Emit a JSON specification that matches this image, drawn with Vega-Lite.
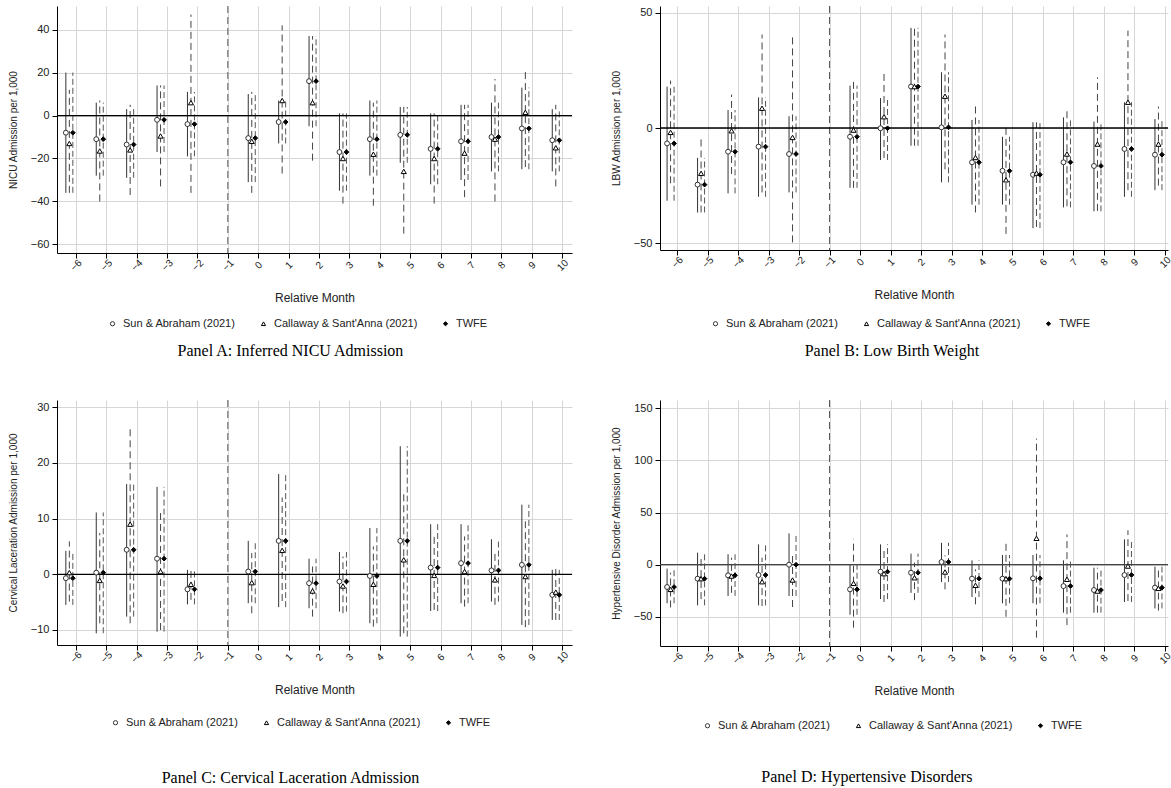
{
"$schema": "https://vega.github.io/schema/vega-lite/v6.json",
"padding": {"left": 8, "top": 5, "right": 0, "bottom": 0},
"datasets": {
"A": [
{"m":-6,"e":"SA","b":-8,"lo":-36,"hi":20},{"m":-5,"e":"SA","b":-11,"lo":-28,"hi":6},{"m":-4,"e":"SA","b":-13.5,"lo":-29,"hi":3},{"m":-3,"e":"SA","b":-2,"lo":-17,"hi":14},{"m":-2,"e":"SA","b":-4,"lo":-19,"hi":11},{"m":0,"e":"SA","b":-10.5,"lo":-31,"hi":10},{"m":1,"e":"SA","b":-3,"lo":-13,"hi":7},{"m":2,"e":"SA","b":16,"lo":-5,"hi":37},{"m":3,"e":"SA","b":-17,"lo":-35,"hi":1},{"m":4,"e":"SA","b":-11,"lo":-28,"hi":7},{"m":5,"e":"SA","b":-9,"lo":-22,"hi":4},{"m":6,"e":"SA","b":-15.5,"lo":-32,"hi":1},{"m":7,"e":"SA","b":-12,"lo":-30,"hi":5},{"m":8,"e":"SA","b":-10,"lo":-26,"hi":6},{"m":9,"e":"SA","b":-6,"lo":-25,"hi":13},{"m":10,"e":"SA","b":-11.5,"lo":-26,"hi":3},
{"m":-6,"e":"CS","b":-13,"lo":-36,"hi":12},{"m":-5,"e":"CS","b":-16.5,"lo":-40,"hi":7},{"m":-4,"e":"CS","b":-16,"lo":-37,"hi":5},{"m":-3,"e":"CS","b":-9.5,"lo":-33,"hi":14},{"m":-2,"e":"CS","b":6,"lo":-36,"hi":47},{"m":0,"e":"CS","b":-12,"lo":-36,"hi":11},{"m":1,"e":"CS","b":7,"lo":-27,"hi":42},{"m":2,"e":"CS","b":6,"lo":-21,"hi":37},{"m":3,"e":"CS","b":-20,"lo":-41,"hi":1},{"m":4,"e":"CS","b":-18,"lo":-42,"hi":6},{"m":5,"e":"CS","b":-26,"lo":-55,"hi":4},{"m":6,"e":"CS","b":-20,"lo":-41,"hi":1},{"m":7,"e":"CS","b":-17.5,"lo":-38,"hi":5},{"m":8,"e":"CS","b":-11,"lo":-40,"hi":17},{"m":9,"e":"CS","b":1.5,"lo":-24,"hi":21},{"m":10,"e":"CS","b":-15,"lo":-33,"hi":5},
{"m":-6,"e":"TW","b":-8,"lo":-36,"hi":20},{"m":-5,"e":"TW","b":-11,"lo":-28,"hi":6},{"m":-4,"e":"TW","b":-13.5,"lo":-29,"hi":3},{"m":-3,"e":"TW","b":-2,"lo":-17,"hi":14},{"m":-2,"e":"TW","b":-4,"lo":-19,"hi":11},{"m":0,"e":"TW","b":-10.5,"lo":-31,"hi":10},{"m":1,"e":"TW","b":-3,"lo":-13,"hi":7},{"m":2,"e":"TW","b":16,"lo":-5,"hi":37},{"m":3,"e":"TW","b":-17,"lo":-35,"hi":1},{"m":4,"e":"TW","b":-11,"lo":-28,"hi":7},{"m":5,"e":"TW","b":-9,"lo":-22,"hi":4},{"m":6,"e":"TW","b":-15.5,"lo":-32,"hi":1},{"m":7,"e":"TW","b":-12,"lo":-30,"hi":5},{"m":8,"e":"TW","b":-10,"lo":-26,"hi":6},{"m":9,"e":"TW","b":-6,"lo":-25,"hi":13},{"m":10,"e":"TW","b":-11.5,"lo":-26,"hi":3}
],
"B": [
{"m":-6,"e":"SA","b":-6.7,"lo":-31.6,"hi":18},{"m":-5,"e":"SA","b":-24.6,"lo":-36.7,"hi":-13},{"m":-4,"e":"SA","b":-10.3,"lo":-28.4,"hi":7.8},{"m":-3,"e":"SA","b":-8.1,"lo":-29.9,"hi":13.3},{"m":-2,"e":"SA","b":-11.3,"lo":-28,"hi":5.1},{"m":0,"e":"SA","b":-3.8,"lo":-26,"hi":18.4},{"m":1,"e":"SA","b":-0.1,"lo":-13.9,"hi":13},{"m":2,"e":"SA","b":18,"lo":-7.7,"hi":43.5},{"m":3,"e":"SA","b":0.3,"lo":-23.6,"hi":24.2},{"m":4,"e":"SA","b":-14.9,"lo":-33.3,"hi":3.5},{"m":5,"e":"SA","b":-18.6,"lo":-33.3,"hi":-3.8},{"m":6,"e":"SA","b":-20.3,"lo":-43.5,"hi":2.5},{"m":7,"e":"SA","b":-14.9,"lo":-34.5,"hi":4.6},{"m":8,"e":"SA","b":-16.5,"lo":-36.2,"hi":2.8},{"m":9,"e":"SA","b":-9.1,"lo":-29.9,"hi":11.2},{"m":10,"e":"SA","b":-11.6,"lo":-27,"hi":3.9},
{"m":-6,"e":"CS","b":-1.9,"lo":-24,"hi":20.6},{"m":-5,"e":"CS","b":-19.7,"lo":-36.7,"hi":-3.3},{"m":-4,"e":"CS","b":-1.2,"lo":-20,"hi":14.5},{"m":-3,"e":"CS","b":8.6,"lo":-28,"hi":40.6},{"m":-2,"e":"CS","b":-4.1,"lo":-49.7,"hi":40.9},{"m":0,"e":"CS","b":-0.9,"lo":-26,"hi":21},{"m":1,"e":"CS","b":4.9,"lo":-13,"hi":24.2},{"m":2,"e":"CS","b":18,"lo":-7.7,"hi":43.5},{"m":3,"e":"CS","b":13.8,"lo":-18,"hi":40.6},{"m":4,"e":"CS","b":-12.8,"lo":-36.7,"hi":10.7},{"m":5,"e":"CS","b":-22.5,"lo":-46,"hi":1.4},{"m":6,"e":"CS","b":-19.6,"lo":-43,"hi":2.5},{"m":7,"e":"CS","b":-11.3,"lo":-34,"hi":9},{"m":8,"e":"CS","b":-7,"lo":-36,"hi":22},{"m":9,"e":"CS","b":11.2,"lo":-27,"hi":42.3},{"m":10,"e":"CS","b":-7,"lo":-25,"hi":9.3},
{"m":-6,"e":"TW","b":-6.7,"lo":-31.6,"hi":18},{"m":-5,"e":"TW","b":-24.6,"lo":-36.7,"hi":-13},{"m":-4,"e":"TW","b":-10.3,"lo":-28.4,"hi":7.8},{"m":-3,"e":"TW","b":-8.1,"lo":-29.9,"hi":13.3},{"m":-2,"e":"TW","b":-11.3,"lo":-28,"hi":5.1},{"m":0,"e":"TW","b":-3.8,"lo":-26,"hi":18.4},{"m":1,"e":"TW","b":-0.1,"lo":-13.9,"hi":13},{"m":2,"e":"TW","b":18,"lo":-7.7,"hi":43.5},{"m":3,"e":"TW","b":0.3,"lo":-23.6,"hi":24.2},{"m":4,"e":"TW","b":-14.9,"lo":-33.3,"hi":3.5},{"m":5,"e":"TW","b":-18.6,"lo":-33.3,"hi":-3.8},{"m":6,"e":"TW","b":-20.3,"lo":-43.5,"hi":2.5},{"m":7,"e":"TW","b":-14.9,"lo":-34.5,"hi":4.6},{"m":8,"e":"TW","b":-16.5,"lo":-36.2,"hi":2.8},{"m":9,"e":"TW","b":-9.1,"lo":-29.9,"hi":11.2},{"m":10,"e":"TW","b":-11.6,"lo":-27,"hi":3.9}
],
"C": [
{"m":-6,"e":"SA","b":-0.7,"lo":-5.5,"hi":4.2},{"m":-5,"e":"SA","b":0.3,"lo":-10.6,"hi":11.1},{"m":-4,"e":"SA","b":4.4,"lo":-7.6,"hi":16.2},{"m":-3,"e":"SA","b":2.8,"lo":-10.3,"hi":15.7},{"m":-2,"e":"SA","b":-2.7,"lo":-5.4,"hi":0.8},{"m":0,"e":"SA","b":0.5,"lo":-5.2,"hi":6},{"m":1,"e":"SA","b":6,"lo":-5.9,"hi":18},{"m":2,"e":"SA","b":-1.6,"lo":-6.1,"hi":2.8},{"m":3,"e":"SA","b":-1.3,"lo":-6.7,"hi":4},{"m":4,"e":"SA","b":-0.3,"lo":-8.8,"hi":8.3},{"m":5,"e":"SA","b":6,"lo":-11.2,"hi":23},{"m":6,"e":"SA","b":1.2,"lo":-6.6,"hi":9},{"m":7,"e":"SA","b":2,"lo":-5.2,"hi":9},{"m":8,"e":"SA","b":0.7,"lo":-4.9,"hi":6.3},{"m":9,"e":"SA","b":1.7,"lo":-9.1,"hi":12.5},{"m":10,"e":"SA","b":-3.7,"lo":-8.2,"hi":0.8},
{"m":-6,"e":"CS","b":0.3,"lo":-4.9,"hi":5.9},{"m":-5,"e":"CS","b":-1.1,"lo":-8.8,"hi":7.4},{"m":-4,"e":"CS","b":9,"lo":-8.8,"hi":26.7},{"m":-3,"e":"CS","b":0.5,"lo":-10,"hi":11},{"m":-2,"e":"CS","b":-1.8,"lo":-4.6,"hi":0.8},{"m":0,"e":"CS","b":-1.5,"lo":-7,"hi":3.8},{"m":1,"e":"CS","b":4.3,"lo":-4.8,"hi":13.8},{"m":2,"e":"CS","b":-3,"lo":-7.6,"hi":1.4},{"m":3,"e":"CS","b":-2.1,"lo":-7,"hi":3.2},{"m":4,"e":"CS","b":-1.8,"lo":-9.4,"hi":5},{"m":5,"e":"CS","b":2.6,"lo":-10.6,"hi":15.1},{"m":6,"e":"CS","b":-0.2,"lo":-6.4,"hi":6.8},{"m":7,"e":"CS","b":0.5,"lo":-5.8,"hi":6.8},{"m":8,"e":"CS","b":-1,"lo":-5.5,"hi":3.8},{"m":9,"e":"CS","b":-0.4,"lo":-9.5,"hi":9.5},{"m":10,"e":"CS","b":-3.2,"lo":-8.2,"hi":1.1},
{"m":-6,"e":"TW","b":-0.7,"lo":-5.5,"hi":4.2},{"m":-5,"e":"TW","b":0.3,"lo":-10.6,"hi":11.1},{"m":-4,"e":"TW","b":4.4,"lo":-7.6,"hi":16.2},{"m":-3,"e":"TW","b":2.8,"lo":-10.3,"hi":15.7},{"m":-2,"e":"TW","b":-2.7,"lo":-5.4,"hi":0.8},{"m":0,"e":"TW","b":0.5,"lo":-5.2,"hi":6},{"m":1,"e":"TW","b":6,"lo":-5.9,"hi":18},{"m":2,"e":"TW","b":-1.6,"lo":-6.1,"hi":2.8},{"m":3,"e":"TW","b":-1.3,"lo":-6.7,"hi":4},{"m":4,"e":"TW","b":-0.3,"lo":-8.8,"hi":8.3},{"m":5,"e":"TW","b":6,"lo":-11.2,"hi":23},{"m":6,"e":"TW","b":1.2,"lo":-6.6,"hi":9},{"m":7,"e":"TW","b":2,"lo":-5.2,"hi":9},{"m":8,"e":"TW","b":0.7,"lo":-4.9,"hi":6.3},{"m":9,"e":"TW","b":1.7,"lo":-9.1,"hi":12.5},{"m":10,"e":"TW","b":-3.7,"lo":-8.2,"hi":0.8}
],
"D": [
{"m":-6,"e":"SA","b":-21.4,"lo":-37,"hi":-3.8},{"m":-5,"e":"SA","b":-13.4,"lo":-39,"hi":11.5},{"m":-4,"e":"SA","b":-10.2,"lo":-30,"hi":10},{"m":-3,"e":"SA","b":-9.9,"lo":-39,"hi":19.5},{"m":-2,"e":"SA","b":0,"lo":-30,"hi":30},{"m":0,"e":"SA","b":-23.7,"lo":-48,"hi":0.3},{"m":1,"e":"SA","b":-6.7,"lo":-33,"hi":19.5},{"m":2,"e":"SA","b":-7.7,"lo":-27,"hi":10.6},{"m":3,"e":"SA","b":2.6,"lo":-16.6,"hi":21},{"m":4,"e":"SA","b":-13.4,"lo":-31,"hi":4.2},{"m":5,"e":"SA","b":-13.4,"lo":-37,"hi":9.3},{"m":6,"e":"SA","b":-13.1,"lo":-37,"hi":9.3},{"m":7,"e":"SA","b":-20.5,"lo":-46,"hi":4.2},{"m":8,"e":"SA","b":-24.3,"lo":-46,"hi":-2.9},{"m":9,"e":"SA","b":-9.9,"lo":-35.8,"hi":24.3},{"m":10,"e":"SA","b":-22,"lo":-42,"hi":-1.9},
{"m":-6,"e":"CS","b":-23.7,"lo":-41,"hi":-7.7},{"m":-5,"e":"CS","b":-13.4,"lo":-33,"hi":6},{"m":-4,"e":"CS","b":-10.9,"lo":-27,"hi":6.7},{"m":-3,"e":"CS","b":-16.3,"lo":-39.7,"hi":6.7},{"m":-2,"e":"CS","b":-14.7,"lo":-40.6,"hi":11.5},{"m":0,"e":"CS","b":-17.9,"lo":-60.4,"hi":24.3},{"m":1,"e":"CS","b":-8.6,"lo":-35.8,"hi":16},{"m":2,"e":"CS","b":-12.5,"lo":-34,"hi":2},{"m":3,"e":"CS","b":-7,"lo":-23.7,"hi":9},{"m":4,"e":"CS","b":-19.8,"lo":-38,"hi":-4.5},{"m":5,"e":"CS","b":-13.4,"lo":-50,"hi":22.7},{"m":6,"e":"CS","b":25.3,"lo":-70,"hi":121},{"m":7,"e":"CS","b":-14,"lo":-58,"hi":29},{"m":8,"e":"CS","b":-25.3,"lo":-46,"hi":-2.9},{"m":9,"e":"CS","b":-1.3,"lo":-34.9,"hi":33},{"m":10,"e":"CS","b":-22.7,"lo":-44,"hi":-1.9},
{"m":-6,"e":"TW","b":-21.4,"lo":-37,"hi":-3.8},{"m":-5,"e":"TW","b":-13.4,"lo":-39,"hi":11.5},{"m":-4,"e":"TW","b":-10.2,"lo":-30,"hi":10},{"m":-3,"e":"TW","b":-9.9,"lo":-39,"hi":19.5},{"m":-2,"e":"TW","b":0,"lo":-30,"hi":30},{"m":0,"e":"TW","b":-23.7,"lo":-48,"hi":0.3},{"m":1,"e":"TW","b":-6.7,"lo":-33,"hi":19.5},{"m":2,"e":"TW","b":-7.7,"lo":-27,"hi":10.6},{"m":3,"e":"TW","b":2.6,"lo":-16.6,"hi":21},{"m":4,"e":"TW","b":-13.4,"lo":-31,"hi":4.2},{"m":5,"e":"TW","b":-13.4,"lo":-37,"hi":9.3},{"m":6,"e":"TW","b":-13.1,"lo":-37,"hi":9.3},{"m":7,"e":"TW","b":-20.5,"lo":-46,"hi":4.2},{"m":8,"e":"TW","b":-24.3,"lo":-46,"hi":-2.9},{"m":9,"e":"TW","b":-9.9,"lo":-35.8,"hi":24.3},{"m":10,"e":"TW","b":-22,"lo":-42,"hi":-1.9}
]
},
"vconcat": [
{"hconcat": [
{"width": 515, "height": 247,
 "title": {"text": "Panel A: Inferred NICU Admission"},
 "layer": [
  {"data": {"name": "A"}, "transform": [{"filter": "datum.e == 'SA'"}],
   "mark": {"type": "rule", "color": "#333", "strokeWidth": 1, "xOffset": -10},
   "encoding": {
    "x": {"field": "m", "type": "quantitative", "scale": {"domain": [-6.62, 10.32], "nice": false, "zero": false}, "axis": {"values": [-6,-5,-4,-3,-2,-1,0,1,2,3,4,5,6,7,8,9,10], "tickCount": 17, "title": "Relative Month", "labelOverlap": false, "labelBound": false, "labelFlush": false, "labelSeparation": 0}},
    "y": {"field": "lo", "type": "quantitative", "scale": {"domain": [-64, 51], "nice": false, "zero": false}, "axis": {"values": [-60,-40,-20,0,20,40], "title": "NICU Admission per 1,000"}},
    "y2": {"field": "hi"}}},
  {"data": {"name": "A"}, "transform": [{"filter": "datum.e == 'CS'"}],
   "mark": {"type": "rule", "color": "#444", "strokeWidth": 1, "strokeDash": [7, 4], "xOffset": -6.5},
   "encoding": {"x": {"field": "m", "type": "quantitative"}, "y": {"field": "lo", "type": "quantitative"}, "y2": {"field": "hi"}}},
  {"data": {"name": "A"}, "transform": [{"filter": "datum.e == 'TW'"}],
   "mark": {"type": "rule", "color": "#555", "strokeWidth": 1, "strokeDash": [6, 3], "xOffset": -3},
   "encoding": {"x": {"field": "m", "type": "quantitative"}, "y": {"field": "lo", "type": "quantitative"}, "y2": {"field": "hi"}}},
  {"data": {"values": [{}]}, "mark": {"type": "rule", "color": "#555", "strokeWidth": 1, "strokeDash": [7, 4]},
   "encoding": {"x": {"datum": -1, "type": "quantitative"}}},
  {"data": {"values": [{}]}, "mark": {"type": "rule", "color": "#000", "strokeWidth": 1.3},
   "encoding": {"y": {"datum": 0, "type": "quantitative"}}},
  {"data": {"name": "A"}, "transform": [{"filter": "datum.e == 'SA'"}],
   "mark": {"type": "point", "filled": true, "opacity": 1, "strokeWidth": 1, "size": 24, "xOffset": -10},
   "encoding": {"x": {"field": "m", "type": "quantitative"}, "y": {"field": "b", "type": "quantitative"},
    "shape": {"field": "e", "type": "nominal", "scale": {"domain": ["SA", "CS", "TW"], "range": ["circle", "triangle-up", "diamond"]}, "legend": {"legendX": 50, "legendY": 312, "labelExpr": "datum.label == 'SA' ? 'Sun & Abraham (2021)' : datum.label == 'CS' ? \"Callaway & Sant'Anna (2021)\" : 'TWFE'"}},
    "fill": {"field": "e", "type": "nominal", "scale": {"domain": ["SA", "CS", "TW"], "range": ["#ffffff", "#ffffff", "#000000"]}, "legend": {"legendX": 50, "legendY": 312, "labelExpr": "datum.label == 'SA' ? 'Sun & Abraham (2021)' : datum.label == 'CS' ? \"Callaway & Sant'Anna (2021)\" : 'TWFE'"}},
    "stroke": {"field": "e", "type": "nominal", "scale": {"domain": ["SA", "CS", "TW"], "range": ["#333333", "#000000", "#000000"]}, "legend": {"legendX": 50, "legendY": 312, "labelExpr": "datum.label == 'SA' ? 'Sun & Abraham (2021)' : datum.label == 'CS' ? \"Callaway & Sant'Anna (2021)\" : 'TWFE'"}}}},
  {"data": {"name": "A"}, "transform": [{"filter": "datum.e == 'CS'"}],
   "mark": {"type": "point", "filled": true, "opacity": 1, "strokeWidth": 1, "size": 26, "xOffset": -6.5},
   "encoding": {"x": {"field": "m", "type": "quantitative"}, "y": {"field": "b", "type": "quantitative"}, "shape": {"field": "e", "type": "nominal"}, "fill": {"field": "e", "type": "nominal"}, "stroke": {"field": "e", "type": "nominal"}}},
  {"data": {"name": "A"}, "transform": [{"filter": "datum.e == 'TW'"}],
   "mark": {"type": "point", "filled": true, "opacity": 1, "strokeWidth": 1, "size": 22, "xOffset": -3},
   "encoding": {"x": {"field": "m", "type": "quantitative"}, "y": {"field": "b", "type": "quantitative"}, "shape": {"field": "e", "type": "nominal"}, "fill": {"field": "e", "type": "nominal"}, "stroke": {"field": "e", "type": "nominal"}}}
 ]},
{"width": 508, "height": 244,
 "title": {"text": "Panel B: Low Birth Weight"},
 "layer": [
  {"data": {"name": "B"}, "transform": [{"filter": "datum.e == 'SA'"}],
   "mark": {"type": "rule", "color": "#333", "strokeWidth": 1, "xOffset": -10},
   "encoding": {
    "x": {"field": "m", "type": "quantitative", "scale": {"domain": [-6.56, 10.1], "nice": false, "zero": false}, "axis": {"values": [-6,-5,-4,-3,-2,-1,0,1,2,3,4,5,6,7,8,9,10], "tickCount": 17, "title": "Relative Month", "labelOverlap": false, "labelBound": false, "labelFlush": false, "labelSeparation": 0}},
    "y": {"field": "lo", "type": "quantitative", "scale": {"domain": [-53, 53], "nice": false, "zero": false}, "axis": {"values": [-50, 0, 50], "title": "LBW Admission per 1,000"}},
    "y2": {"field": "hi"}}},
  {"data": {"name": "B"}, "transform": [{"filter": "datum.e == 'CS'"}],
   "mark": {"type": "rule", "color": "#444", "strokeWidth": 1, "strokeDash": [7, 4], "xOffset": -6.5},
   "encoding": {"x": {"field": "m", "type": "quantitative"}, "y": {"field": "lo", "type": "quantitative"}, "y2": {"field": "hi"}}},
  {"data": {"name": "B"}, "transform": [{"filter": "datum.e == 'TW'"}],
   "mark": {"type": "rule", "color": "#555", "strokeWidth": 1, "strokeDash": [6, 3], "xOffset": -3},
   "encoding": {"x": {"field": "m", "type": "quantitative"}, "y": {"field": "lo", "type": "quantitative"}, "y2": {"field": "hi"}}},
  {"data": {"values": [{}]}, "mark": {"type": "rule", "color": "#555", "strokeWidth": 1, "strokeDash": [7, 4]},
   "encoding": {"x": {"datum": -1, "type": "quantitative"}}},
  {"data": {"values": [{}]}, "mark": {"type": "rule", "color": "#000", "strokeWidth": 1.3},
   "encoding": {"y": {"datum": 0, "type": "quantitative"}}},
  {"data": {"name": "B"}, "transform": [{"filter": "datum.e == 'SA'"}],
   "mark": {"type": "point", "filled": true, "opacity": 1, "strokeWidth": 1, "size": 24, "xOffset": -10},
   "encoding": {"x": {"field": "m", "type": "quantitative"}, "y": {"field": "b", "type": "quantitative"},
    "shape": {"field": "e", "type": "nominal", "scale": {"domain": ["SA", "CS", "TW"], "range": ["circle", "triangle-up", "diamond"]}, "legend": {"legendX": 50, "legendY": 312, "labelExpr": "datum.label == 'SA' ? 'Sun & Abraham (2021)' : datum.label == 'CS' ? \"Callaway & Sant'Anna (2021)\" : 'TWFE'"}},
    "fill": {"field": "e", "type": "nominal", "scale": {"domain": ["SA", "CS", "TW"], "range": ["#ffffff", "#ffffff", "#000000"]}, "legend": {"legendX": 50, "legendY": 312, "labelExpr": "datum.label == 'SA' ? 'Sun & Abraham (2021)' : datum.label == 'CS' ? \"Callaway & Sant'Anna (2021)\" : 'TWFE'"}},
    "stroke": {"field": "e", "type": "nominal", "scale": {"domain": ["SA", "CS", "TW"], "range": ["#333333", "#000000", "#000000"]}, "legend": {"legendX": 50, "legendY": 312, "labelExpr": "datum.label == 'SA' ? 'Sun & Abraham (2021)' : datum.label == 'CS' ? \"Callaway & Sant'Anna (2021)\" : 'TWFE'"}}}},
  {"data": {"name": "B"}, "transform": [{"filter": "datum.e == 'CS'"}],
   "mark": {"type": "point", "filled": true, "opacity": 1, "strokeWidth": 1, "size": 26, "xOffset": -6.5},
   "encoding": {"x": {"field": "m", "type": "quantitative"}, "y": {"field": "b", "type": "quantitative"}, "shape": {"field": "e", "type": "nominal"}, "fill": {"field": "e", "type": "nominal"}, "stroke": {"field": "e", "type": "nominal"}}},
  {"data": {"name": "B"}, "transform": [{"filter": "datum.e == 'TW'"}],
   "mark": {"type": "point", "filled": true, "opacity": 1, "strokeWidth": 1, "size": 22, "xOffset": -3},
   "encoding": {"x": {"field": "m", "type": "quantitative"}, "y": {"field": "b", "type": "quantitative"}, "shape": {"field": "e", "type": "nominal"}, "fill": {"field": "e", "type": "nominal"}, "stroke": {"field": "e", "type": "nominal"}}}
 ]}
],
"spacing": 38,
"resolve": {"scale": {"shape": "independent", "fill": "independent", "stroke": "independent"}, "legend": {"shape": "independent", "fill": "independent", "stroke": "independent"}}},
{"hconcat": [
{"width": 515, "height": 245,
 "title": {"text": "Panel C: Cervical Laceration Admission", "offset": 42},
 "layer": [
  {"data": {"name": "C"}, "transform": [{"filter": "datum.e == 'SA'"}],
   "mark": {"type": "rule", "color": "#333", "strokeWidth": 1, "xOffset": -10},
   "encoding": {
    "x": {"field": "m", "type": "quantitative", "scale": {"domain": [-6.62, 10.32], "nice": false, "zero": false}, "axis": {"values": [-6,-5,-4,-3,-2,-1,0,1,2,3,4,5,6,7,8,9,10], "tickCount": 17, "title": "Relative Month", "labelOverlap": false, "labelBound": false, "labelFlush": false, "labelSeparation": 0}},
    "y": {"field": "lo", "type": "quantitative", "scale": {"domain": [-12.7, 31.3], "nice": false, "zero": false}, "axis": {"values": [-10, 0, 10, 20, 30], "title": "Cervical Laceration Admission per 1,000"}},
    "y2": {"field": "hi"}}},
  {"data": {"name": "C"}, "transform": [{"filter": "datum.e == 'CS'"}],
   "mark": {"type": "rule", "color": "#444", "strokeWidth": 1, "strokeDash": [7, 4], "xOffset": -6.5},
   "encoding": {"x": {"field": "m", "type": "quantitative"}, "y": {"field": "lo", "type": "quantitative"}, "y2": {"field": "hi"}}},
  {"data": {"name": "C"}, "transform": [{"filter": "datum.e == 'TW'"}],
   "mark": {"type": "rule", "color": "#555", "strokeWidth": 1, "strokeDash": [6, 3], "xOffset": -3},
   "encoding": {"x": {"field": "m", "type": "quantitative"}, "y": {"field": "lo", "type": "quantitative"}, "y2": {"field": "hi"}}},
  {"data": {"values": [{}]}, "mark": {"type": "rule", "color": "#555", "strokeWidth": 1, "strokeDash": [7, 4]},
   "encoding": {"x": {"datum": -1, "type": "quantitative"}}},
  {"data": {"values": [{}]}, "mark": {"type": "rule", "color": "#000", "strokeWidth": 1.3},
   "encoding": {"y": {"datum": 0, "type": "quantitative"}}},
  {"data": {"name": "C"}, "transform": [{"filter": "datum.e == 'SA'"}],
   "mark": {"type": "point", "filled": true, "opacity": 1, "strokeWidth": 1, "size": 24, "xOffset": -10},
   "encoding": {"x": {"field": "m", "type": "quantitative"}, "y": {"field": "b", "type": "quantitative"},
    "shape": {"field": "e", "type": "nominal", "scale": {"domain": ["SA", "CS", "TW"], "range": ["circle", "triangle-up", "diamond"]}, "legend": {"legendX": 53, "legendY": 317, "labelExpr": "datum.label == 'SA' ? 'Sun & Abraham (2021)' : datum.label == 'CS' ? \"Callaway & Sant'Anna (2021)\" : 'TWFE'"}},
    "fill": {"field": "e", "type": "nominal", "scale": {"domain": ["SA", "CS", "TW"], "range": ["#ffffff", "#ffffff", "#000000"]}, "legend": {"legendX": 53, "legendY": 317, "labelExpr": "datum.label == 'SA' ? 'Sun & Abraham (2021)' : datum.label == 'CS' ? \"Callaway & Sant'Anna (2021)\" : 'TWFE'"}},
    "stroke": {"field": "e", "type": "nominal", "scale": {"domain": ["SA", "CS", "TW"], "range": ["#333333", "#000000", "#000000"]}, "legend": {"legendX": 53, "legendY": 317, "labelExpr": "datum.label == 'SA' ? 'Sun & Abraham (2021)' : datum.label == 'CS' ? \"Callaway & Sant'Anna (2021)\" : 'TWFE'"}}}},
  {"data": {"name": "C"}, "transform": [{"filter": "datum.e == 'CS'"}],
   "mark": {"type": "point", "filled": true, "opacity": 1, "strokeWidth": 1, "size": 26, "xOffset": -6.5},
   "encoding": {"x": {"field": "m", "type": "quantitative"}, "y": {"field": "b", "type": "quantitative"}, "shape": {"field": "e", "type": "nominal"}, "fill": {"field": "e", "type": "nominal"}, "stroke": {"field": "e", "type": "nominal"}}},
  {"data": {"name": "C"}, "transform": [{"filter": "datum.e == 'TW'"}],
   "mark": {"type": "point", "filled": true, "opacity": 1, "strokeWidth": 1, "size": 22, "xOffset": -3},
   "encoding": {"x": {"field": "m", "type": "quantitative"}, "y": {"field": "b", "type": "quantitative"}, "shape": {"field": "e", "type": "nominal"}, "fill": {"field": "e", "type": "nominal"}, "stroke": {"field": "e", "type": "nominal"}}}
 ]},
{"width": 508, "height": 246,
 "title": {"text": "Panel D: Hypertensive Disorders", "dx": -25, "offset": 38},
 "layer": [
  {"data": {"name": "D"}, "transform": [{"filter": "datum.e == 'SA'"}],
   "mark": {"type": "rule", "color": "#333", "strokeWidth": 1, "xOffset": -10},
   "encoding": {
    "x": {"field": "m", "type": "quantitative", "scale": {"domain": [-6.56, 10.1], "nice": false, "zero": false}, "axis": {"values": [-6,-5,-4,-3,-2,-1,0,1,2,3,4,5,6,7,8,9,10], "tickCount": 17, "title": "Relative Month", "labelOverlap": false, "labelBound": false, "labelFlush": false, "labelSeparation": 0}},
    "y": {"field": "lo", "type": "quantitative", "scale": {"domain": [-78, 158], "nice": false, "zero": false}, "axis": {"values": [-50, 0, 50, 100, 150], "title": "Hypertensive Disorder Admission per 1,000"}},
    "y2": {"field": "hi"}}},
  {"data": {"name": "D"}, "transform": [{"filter": "datum.e == 'CS'"}],
   "mark": {"type": "rule", "color": "#444", "strokeWidth": 1, "strokeDash": [7, 4], "xOffset": -6.5},
   "encoding": {"x": {"field": "m", "type": "quantitative"}, "y": {"field": "lo", "type": "quantitative"}, "y2": {"field": "hi"}}},
  {"data": {"name": "D"}, "transform": [{"filter": "datum.e == 'TW'"}],
   "mark": {"type": "rule", "color": "#555", "strokeWidth": 1, "strokeDash": [6, 3], "xOffset": -3},
   "encoding": {"x": {"field": "m", "type": "quantitative"}, "y": {"field": "lo", "type": "quantitative"}, "y2": {"field": "hi"}}},
  {"data": {"values": [{}]}, "mark": {"type": "rule", "color": "#555", "strokeWidth": 1, "strokeDash": [7, 4]},
   "encoding": {"x": {"datum": -1, "type": "quantitative"}}},
  {"data": {"values": [{}]}, "mark": {"type": "rule", "color": "#444", "strokeWidth": 1.3},
   "encoding": {"y": {"datum": 0, "type": "quantitative"}}},
  {"data": {"name": "D"}, "transform": [{"filter": "datum.e == 'SA'"}],
   "mark": {"type": "point", "filled": true, "opacity": 1, "strokeWidth": 1, "size": 24, "xOffset": -10},
   "encoding": {"x": {"field": "m", "type": "quantitative"}, "y": {"field": "b", "type": "quantitative"},
    "shape": {"field": "e", "type": "nominal", "scale": {"domain": ["SA", "CS", "TW"], "range": ["circle", "triangle-up", "diamond"]}, "legend": {"legendX": 42, "legendY": 320, "labelExpr": "datum.label == 'SA' ? 'Sun & Abraham (2021)' : datum.label == 'CS' ? \"Callaway & Sant'Anna (2021)\" : 'TWFE'"}},
    "fill": {"field": "e", "type": "nominal", "scale": {"domain": ["SA", "CS", "TW"], "range": ["#ffffff", "#ffffff", "#000000"]}, "legend": {"legendX": 42, "legendY": 320, "labelExpr": "datum.label == 'SA' ? 'Sun & Abraham (2021)' : datum.label == 'CS' ? \"Callaway & Sant'Anna (2021)\" : 'TWFE'"}},
    "stroke": {"field": "e", "type": "nominal", "scale": {"domain": ["SA", "CS", "TW"], "range": ["#333333", "#000000", "#000000"]}, "legend": {"legendX": 42, "legendY": 320, "labelExpr": "datum.label == 'SA' ? 'Sun & Abraham (2021)' : datum.label == 'CS' ? \"Callaway & Sant'Anna (2021)\" : 'TWFE'"}}}},
  {"data": {"name": "D"}, "transform": [{"filter": "datum.e == 'CS'"}],
   "mark": {"type": "point", "filled": true, "opacity": 1, "strokeWidth": 1, "size": 26, "xOffset": -6.5},
   "encoding": {"x": {"field": "m", "type": "quantitative"}, "y": {"field": "b", "type": "quantitative"}, "shape": {"field": "e", "type": "nominal"}, "fill": {"field": "e", "type": "nominal"}, "stroke": {"field": "e", "type": "nominal"}}},
  {"data": {"name": "D"}, "transform": [{"filter": "datum.e == 'TW'"}],
   "mark": {"type": "point", "filled": true, "opacity": 1, "strokeWidth": 1, "size": 22, "xOffset": -3},
   "encoding": {"x": {"field": "m", "type": "quantitative"}, "y": {"field": "b", "type": "quantitative"}, "shape": {"field": "e", "type": "nominal"}, "fill": {"field": "e", "type": "nominal"}, "stroke": {"field": "e", "type": "nominal"}}}
 ]}
],
"spacing": 38,
"resolve": {"scale": {"shape": "independent", "fill": "independent", "stroke": "independent"}, "legend": {"shape": "independent", "fill": "independent", "stroke": "independent"}}}
],
"spacing": 40,
"resolve": {"scale": {"shape": "independent", "fill": "independent", "stroke": "independent"}, "legend": {"shape": "independent", "fill": "independent", "stroke": "independent"}},
"config": {
 "view": {"stroke": null},
 "font": "Liberation Sans",
 "title": {"orient": "bottom", "anchor": "middle", "frame": "bounds", "font": "Liberation Serif", "fontSize": 16, "fontWeight": "normal", "color": "#000", "offset": 14},
 "axis": {"labelFont": "Liberation Sans", "labelFontSize": 11, "labelColor": "#222", "titleFont": "Liberation Sans", "titleFontWeight": "normal", "titleColor": "#222", "gridColor": "#d6d6d6", "gridWidth": 1, "domainColor": "#000", "domainWidth": 1, "tickColor": "#000", "tickSize": 5, "labelPadding": 3},
 "axisX": {"titleFontSize": 12, "titlePadding": 20, "labelAngle": -45, "labelAlign": "center", "labelBaseline": "middle", "labelPadding": 7, "labelFontSize": 10, "labelOverlap": false},
 "axisY": {"titleFontSize": 10, "titlePadding": 12},
 "legend": {"orient": "none", "direction": "horizontal", "title": null, "labelFont": "Liberation Sans", "labelFontSize": 11, "labelColor": "#222", "symbolSize": 18, "symbolStrokeWidth": 1, "columnPadding": 22, "labelOffset": 5, "padding": 0}
}
}
